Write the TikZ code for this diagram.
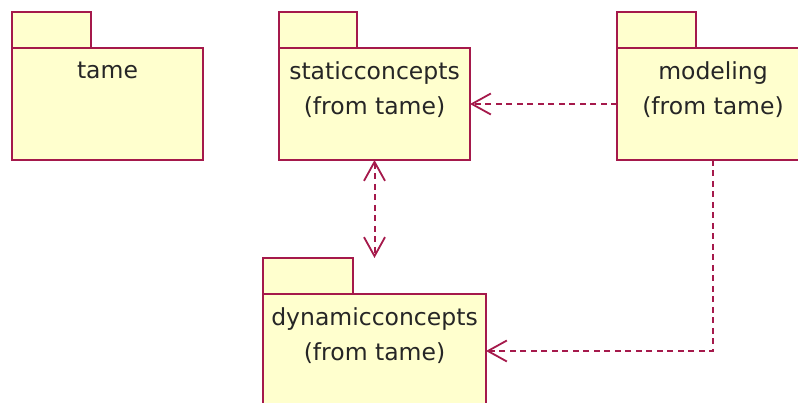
\documentclass[tikz,border=0pt]{standalone}
\usepackage{fontspec}
\setmainfont{DejaVu Sans}
\usetikzlibrary{arrows.meta}
\definecolor{pkgline}{RGB}{165,25,75}
\definecolor{pkgfill}{RGB}{255,255,206}
\begin{document}
\begin{tikzpicture}[x=1pt,y=-1pt,
  pkgbox/.style={draw=pkgline, fill=pkgfill, line width=2.1pt, inner sep=0pt, outer sep=0pt, anchor=north west},
  pkglabel/.style={anchor=north, align=center, inner sep=0pt, text=black!85, font=\fontsize{23.5}{35}\selectfont},
  barb/.tip={Straight Barb[length=19pt, width=21pt, line width=1.8pt]},
  dep/.style={draw=pkgline, line width=2pt, dash pattern=on 6pt off 4.5pt, -barb}]
\useasboundingbox (0,0) rectangle (798,403);
% tame
\node[pkgbox, minimum width=79pt, minimum height=36pt] (tameTab) at (12,12) {};
\node[pkgbox, minimum width=191pt, minimum height=112pt] (tame) at (12,48) {};
\node[pkglabel] (tameT) at ([yshift=-13.5pt]tame.north) {tame};
% staticconcepts
\node[pkgbox, minimum width=78pt, minimum height=36pt] (staticTab) at (279,12) {};
\node[pkgbox, minimum width=191pt, minimum height=112pt] (static) at (279,48) {};
\node[pkglabel] (staticT) at ([yshift=-13.5pt]static.north) {staticconcepts\\(from tame)};
% modeling
\node[pkgbox, minimum width=79pt, minimum height=36pt] (modelTab) at (617,12) {};
\node[pkgbox, minimum width=192pt, minimum height=112pt] (model) at (617,48) {};
\node[pkglabel] (modelT) at ([yshift=-13.5pt]model.north) {modeling\\(from tame)};
% dynamicconcepts
\node[pkgbox, minimum width=90pt, minimum height=36pt] (dynTab) at (263,258) {};
\node[pkgbox, minimum width=223pt, minimum height=114pt] (dyn) at (263,294) {};
\node[pkglabel] (dynT) at ([yshift=-13.5pt]dyn.north) {dynamicconcepts\\(from tame)};
% dependencies
\draw[dep] (model.west) -- (static.east);
\draw[dep, barb-barb] (static.south) -- (static.south |- dynTab.north);
\draw[dep] (model.south) |- (dyn.east);
\end{tikzpicture}
\end{document}
